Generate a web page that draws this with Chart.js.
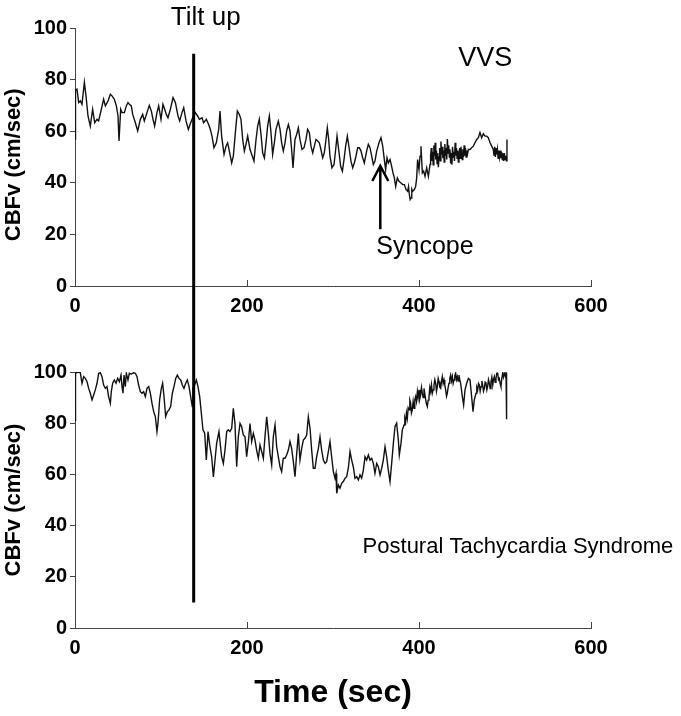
<!DOCTYPE html>
<html lang="en">
  <head>
    <meta charset="UTF-8" />
    <title>CBFv during head-up tilt</title>
    <script src="https://cdn.jsdelivr.net/npm/chart.js"></script>
    <style>
      body {
        margin: 0;
        background: #fff;
        width: 681px;
        height: 716px;
        overflow: hidden;
      }
      .panel {
        position: absolute;
        left: 0;
        width: 681px;
      }
      #topPanel {
        top: 0;
        height: 330px;
      }
      #bottomPanel {
        top: 330px;
        height: 386px;
      }
    </style>
  </head>
  <body>
    <div class="panel" id="topPanel"><canvas id="vvsChart"></canvas></div>
    <div class="panel" id="bottomPanel"><canvas id="potsChart"></canvas></div>
    <script>
      const fontFamily = "'Liberation Sans', Arial, sans-serif";
      const axisColor = "#444";

      const timeTicks = [0, 200, 400, 600];
      const cbfvTicks = [0, 20, 40, 60, 80, 100];
      const tiltTime = 138;

      // vasovagal syncope trace (sec, cm/sec)
      const vvsTime = [
        0, 0.6, 2.3, 4.3, 6.2, 8.1, 10.9, 12.8, 15.1, 17.8, 20.5, 22.9, 25.6, 27.5, 30.6, 33.3, 35.3, 38.4, 41.1, 43.0,
        45.7, 48.1, 50.0, 51.2, 53.1, 54.7, 57.4, 59.7, 61.6, 63.2, 65.5, 67.1, 70.2, 72.9, 76.0, 78.7, 80.6, 83.7, 86.4, 88.8,
        90.7, 92.6, 95.3, 97.3, 100.0, 102.3, 104.3, 106.2, 108.1, 110.9, 114.0, 116.7, 119.8, 121.7, 124.4, 126.4, 129.1, 131.8, 134.5, 136.8,
        139.9, 142.6, 144.6, 147.7, 149.6, 152.7, 155.4, 157.4, 159.3, 161.6, 164.3, 167.1, 168.6, 170.5, 173.3, 175.6, 177.5, 179.5, 182.2, 184.1,
        186.8, 188.8, 191.1, 193.0, 195.0, 196.9, 198.8, 200.8, 203.5, 206.2, 208.1, 210.5, 212.4, 214.3, 216.3, 218.2, 220.2, 222.1, 224.0, 226.0,
        227.9, 229.8, 231.8, 233.7, 236.4, 238.4, 240.3, 242.2, 244.2, 246.1, 248.1, 250.0, 251.9, 253.5, 255.8, 257.8, 259.7, 261.6, 264.0, 266.3,
        268.6, 270.5, 272.5, 274.4, 276.4, 278.3, 280.2, 282.2, 284.1, 286.0, 288.0, 289.9, 291.9, 293.4, 295.0, 296.5, 298.8, 301.2, 303.1, 304.7,
        306.6, 308.9, 310.9, 312.8, 314.7, 316.7, 319.0, 320.9, 322.9, 324.8, 326.7, 328.7, 330.6, 332.6, 334.5, 336.4, 339.1, 341.1, 343.0, 345.0,
        346.9, 348.8, 350.8, 353.5, 355.8, 357.8, 359.7, 361.2, 362.8, 364.3, 366.3, 368.2, 369.8, 371.3, 372.9, 374.8, 376.7, 379.1, 381.0, 383.0,
        384.9, 386.8, 387.8, 388.8, 389.7, 390.7, 391.6, 392.6, 394.6, 396.1, 397.3, 398.4, 400.0, 401.2, 402.3, 403.9, 405.4, 407.0, 408.9, 410.9,
        412.8, 413.5, 414.3, 415.0, 415.8, 416.5, 417.3, 418.0, 418.8, 419.5, 420.3, 421.0, 421.8, 422.5, 423.3, 424.0, 424.8, 425.5, 426.3, 427.0,
        427.8, 428.5, 429.3, 430.0, 430.8, 431.5, 432.3, 433.0, 433.8, 434.5, 435.3, 436.0, 436.8, 437.5, 438.3, 439.0, 439.8, 440.5, 441.3, 442.0,
        442.8, 443.5, 444.3, 445.0, 445.8, 446.5, 447.3, 448.0, 448.8, 449.5, 450.3, 451.0, 451.8, 452.5, 453.3, 454.0, 454.8, 455.5, 456.3, 457.4,
        459.3, 461.2, 463.2, 465.1, 467.1, 469.0, 470.9, 472.9, 474.8, 476.7, 478.7, 480.6, 482.6, 484.5, 486.4, 487.2, 488.0, 488.8, 489.6, 490.4,
        491.2, 492.0, 492.8, 493.6, 494.4, 495.2, 496.0, 496.8, 497.6, 498.4, 499.2, 500.0, 500.8, 501.6, 502.3
      ];
      const vvsCbfv = [
        57, 76, 76.3, 71.1, 71.7, 70.4, 78.9, 73.7, 65.9, 62.0, 68.5, 63.3, 64.6, 64.0, 68.5, 72.4, 69.8, 71.7, 74.3, 73.7,
        72.4, 69.8, 65.9, 56.2, 68.5, 67.2, 67.2, 69.8, 71.1, 70.4, 69.8, 66.5, 63.3, 60.1, 64.6, 66.5, 64.0, 67.2, 70.0, 67.8,
        64.6, 62.0, 67.2, 69.8, 64.6, 70.4, 68.5, 66.5, 65.2, 68.5, 73.0, 71.1, 65.9, 64.0, 67.2, 69.1, 64.0, 60.7, 63.3, 65.2,
        67.2, 65.9, 64.6, 65.2, 63.3, 64.6, 62.6, 60.7, 58.1, 53.6, 55.5, 60.7, 67.8, 58.1, 51.0, 54.2, 55.5, 52.3, 47.7, 50.3,
        60.7, 67.8, 66.5, 64.6, 56.8, 52.3, 54.9, 58.1, 52.9, 50.3, 48.4, 56.8, 62.0, 64.6, 58.8, 51.6, 49.7, 55.5, 62.0, 65.9,
        59.4, 51.0, 55.5, 60.7, 63.9, 60.7, 55.5, 52.3, 55.5, 60.1, 62.6, 60.1, 52.9, 45.8, 56.8, 58.8, 61.3, 56.8, 52.9, 53.6,
        56.8, 60.7, 59.4, 54.2, 51.6, 54.2, 56.8, 56.2, 55.5, 52.9, 49.7, 51.6, 56.8, 61.3, 56.8, 50.3, 45.8, 47.1, 52.9, 58.1,
        52.9, 46.4, 44.5, 49.0, 54.2, 58.1, 52.9, 48.4, 45.8, 47.7, 50.3, 53.6, 53.6, 52.3, 49.7, 47.7, 52.3, 54.9, 53.6, 50.3,
        47.1, 48.4, 52.3, 55.5, 57.5, 54.2, 49.0, 45.1, 49.7, 47.7, 49.0, 46.4, 43.8, 41.9, 38.6, 41.9, 40.6, 39.9, 39.3, 39.3,
        37.4, 36.7, 38.5, 35.4, 33.5, 34.1, 37.5, 36.7, 37.4, 38.6, 41.9, 49.0, 45.1, 50.3, 54.2, 43.8, 44.5, 42.5, 45.8, 42.5,
        47.1, 50.5, 53.5, 48.5, 52.0, 47.0, 54.5, 50.5, 55.5, 49.0, 52.5, 47.5, 51.5, 46.0, 50.0, 53.5, 48.5, 56.0, 51.0, 54.0,
        49.5, 52.5, 48.0, 55.0, 50.5, 53.5, 49.0, 57.0, 51.5, 54.5, 50.0, 53.0, 47.5, 51.5, 47.0, 54.0, 50.0, 52.0, 48.5, 55.5,
        50.5, 53.5, 49.5, 52.5, 48.0, 51.0, 53.5, 49.5, 54.0, 51.0, 49.0, 53.0, 50.0, 54.5, 50.5, 53.5, 50.0, 52.5, 51.0, 52.9,
        52.9, 53.6, 54.2, 55.5, 56.8, 57.5, 59.5, 57.5, 59.0, 58.1, 58.1, 57.5, 55.5, 54.2, 52.9, 50.5, 54.0, 50.0, 53.5, 51.0,
        53.0, 49.5, 52.5, 50.0, 52.5, 49.5, 52.0, 49.0, 51.5, 48.5, 51.5, 49.0, 50.5, 48.5, 56.8
      ];

      // postural tachycardia syndrome trace (sec, cm/sec)
      const potsTime = [
        0, 0.6, 1.9, 4.3, 6.2, 8.1, 10.1, 12.0, 14.0, 15.9, 17.8, 19.8, 21.7, 23.6, 25.6, 27.5, 29.5, 31.4, 33.3, 35.3,
        37.2, 39.1, 41.1, 42.2, 43.8, 45.7, 47.7, 49.6, 51.6, 53.5, 54.7, 55.8, 57.0, 58.5, 59.7, 61.6, 63.2, 65.5, 68.2, 70.2,
        72.1, 74.0, 76.0, 77.9, 79.8, 81.8, 83.7, 85.7, 87.6, 89.5, 91.5, 93.4, 95.3, 96.5, 98.4, 100.4, 101.9, 103.5, 105.4, 107.4,
        109.3, 111.2, 113.2, 115.1, 117.1, 119.0, 120.9, 122.9, 124.8, 126.7, 128.7, 130.6, 132.6, 134.5, 136.4, 137.2, 139.1, 141.1, 143.0, 145.0,
        146.9, 148.8, 150.8, 152.7, 154.7, 156.6, 158.9, 160.9, 162.8, 164.7, 167.4, 170.5, 172.5, 174.4, 176.4, 178.3, 180.2, 182.2, 184.1, 186.0,
        188.0, 189.9, 191.9, 193.8, 195.7, 197.7, 199.6, 201.6, 203.5, 205.4, 207.4, 209.3, 211.2, 213.2, 215.1, 217.1, 219.0, 220.9, 222.9, 224.8,
        226.7, 228.7, 230.6, 232.6, 234.5, 236.4, 238.4, 240.3, 242.2, 244.2, 246.1, 248.1, 250.0, 251.9, 253.9, 255.8, 257.8, 259.7, 261.6, 263.6,
        265.5, 267.4, 269.4, 271.3, 273.3, 275.2, 277.1, 279.1, 281.0, 283.0, 284.9, 286.8, 288.8, 290.7, 292.6, 294.6, 296.5, 298.4, 300.4, 302.3,
        303.5, 304.3, 306.2, 308.1, 310.1, 312.0, 314.0, 315.9, 317.8, 319.8, 321.7, 323.6, 325.6, 327.5, 329.5, 331.4, 333.3, 335.3, 337.2, 339.1,
        341.1, 343.0, 345.0, 346.9, 348.8, 350.8, 352.7, 354.7, 356.6, 358.5, 360.5, 362.4, 364.3, 366.3, 368.2, 370.2, 372.1, 374.0, 376.0, 377.1,
        379.1, 380.6, 382.6, 383.5, 384.5, 385.4, 386.4, 387.4, 388.4, 389.3, 390.3, 391.2, 392.2, 393.2, 394.2, 395.1, 396.1, 397.1, 398.1, 399.0,
        400.0, 400.9, 401.9, 402.9, 403.9, 404.8, 405.8, 406.8, 407.8, 408.7, 409.7, 410.6, 411.6, 412.6, 413.6, 414.5, 415.5, 416.5, 417.4, 418.4,
        419.4, 420.3, 421.3, 422.3, 423.3, 424.2, 425.2, 426.2, 427.1, 428.1, 429.1, 430.0, 431.0, 432.0, 432.9, 433.9, 434.9, 435.8, 436.8, 437.8,
        438.8, 439.7, 440.7, 441.6, 442.6, 443.6, 444.6, 445.5, 446.5, 447.4, 448.4, 449.4, 450.4, 451.9, 453.5, 455.4, 457.4, 459.3, 461.2, 462.8,
        464.3, 466.3, 467.2, 468.2, 469.2, 470.2, 471.1, 472.1, 473.1, 474.0, 475.0, 476.0, 476.9, 477.9, 478.9, 479.8, 480.8, 481.8, 482.7, 483.7,
        484.7, 485.7, 486.6, 487.6, 488.6, 489.5, 490.5, 491.5, 492.4, 493.4, 494.4, 495.3, 496.3, 497.3, 498.2, 499.2, 500.2, 501.2, 501.8, 501.9
      ];
      const potsCbfv = [
        81, 99.7, 99.7, 100, 99.7, 95.6, 98.2, 97.5, 96.2, 93.6, 91.7, 89.1, 91.0, 93.0, 95.6, 99.5, 99.7, 98.2, 94.9, 93.6,
        94.3, 90.4, 87.8, 92.3, 95.6, 96.9, 95.6, 97.5, 96.2, 98.8, 94.3, 91.7, 98.8, 94.3, 99.5, 96.9, 99.5, 99.2, 99.7, 99.5,
        98.2, 94.9, 92.3, 91.7, 92.3, 90.4, 93.6, 94.3, 91.7, 87.8, 84.5, 82.6, 76.7, 80.0, 89.1, 93.6, 95.6, 90.4, 82.6, 84.5,
        85.2, 86.5, 91.7, 94.3, 97.5, 98.8, 97.5, 96.9, 94.9, 93.6, 95.6, 96.9, 94.3, 90.4, 86.5, 93.6, 94.9, 96.9, 94.3, 90.4,
        83.9, 77.4, 76.1, 65.6, 76.7, 71.5, 66.9, 59.0, 65.6, 72.1, 76.7, 66.9, 64.3, 69.5, 76.7, 77.4, 76.7, 78.0, 85.8, 79.9,
        63.0, 74.7, 79.9, 78.6, 75.4, 74.7, 66.9, 72.8, 79.9, 72.8, 76.0, 73.4, 69.5, 66.3, 71.5, 68.9, 66.3, 74.7, 82.5, 76.0,
        68.2, 63.7, 74.7, 79.3, 70.8, 66.9, 63.0, 61.1, 66.3, 66.3, 67.6, 69.5, 72.8, 70.2, 65.0, 59.1, 68.2, 76.0, 65.6, 70.2,
        73.4, 74.1, 75.4, 82.5, 78.0, 69.5, 62.4, 62.4, 66.9, 70.2, 74.7, 69.5, 65.6, 64.3, 65.0, 68.9, 72.8, 66.9, 61.1, 58.5,
        60.4, 52.6, 55.9, 54.6, 56.5, 57.2, 58.5, 59.1, 62.4, 68.9, 65.6, 63.0, 58.5, 59.1, 57.8, 59.8, 58.5, 61.7, 66.9, 65.6,
        67.6, 65.6, 66.3, 64.3, 60.4, 64.3, 63.0, 59.8, 62.4, 65.6, 70.8, 66.9, 61.7, 57.2, 64.3, 72.2, 78.7, 80.0, 73.4, 67.6,
        72.2, 77.4, 79.3, 82.0, 80.6, 84.0, 81.9, 86.0, 85.2, 89.0, 87.8, 84.0, 85.2, 88.5, 85.8, 89.0, 90.4, 88.5, 92.3, 90.0,
        93.0, 89.5, 91.0, 94.0, 91.7, 90.0, 93.6, 91.5, 89.1, 87.5, 86.5, 89.0, 90.4, 94.0, 92.3, 95.0, 91.7, 93.0, 94.9, 97.0,
        95.6, 92.5, 94.3, 97.5, 96.2, 94.0, 93.6, 96.5, 98.2, 95.5, 96.9, 95.0, 93.0, 90.5, 91.7, 94.0, 95.6, 97.5, 98.8, 96.5,
        98.2, 95.5, 96.9, 98.5, 99.5, 97.0, 98.2, 96.5, 98.8, 97.0, 95.6, 93.0, 90.4, 87.1, 93.0, 95.6, 97.5, 96.9, 90.4, 84.5,
        89.1, 91.7, 94.0, 93.0, 95.5, 94.9, 92.5, 94.3, 96.5, 94.9, 92.5, 93.6, 96.0, 95.6, 93.0, 94.3, 97.0, 95.6, 93.5, 96.2,
        98.0, 94.9, 97.0, 98.2, 96.0, 97.5, 99.5, 99.5, 97.0, 97.5, 95.5, 94.3, 97.5, 99.5, 98.0, 99.5, 98.5, 99.7, 99.7, 81.5
      ];

      function toPoints(times, values) {
        return times.map(function (t, i) {
          return { x: t, y: values[i] };
        });
      }

      // inward time ticks, tilt marker, axis title and notes
      const marksPlugin = {
        id: "marks",
        afterDraw(chart, args, opts) {
          const ctx = chart.ctx;
          const area = chart.chartArea;
          const xs = chart.scales.x;
          const ys = chart.scales.y;
          ctx.save();

          ctx.strokeStyle = axisColor;
          ctx.lineWidth = 1;
          timeTicks.slice(1).forEach(function (t) {
            const px = Math.round(xs.getPixelForValue(t)) + 0.5;
            ctx.beginPath();
            ctx.moveTo(px, area.bottom);
            ctx.lineTo(px, area.bottom - 6);
            ctx.stroke();
          });

          const tx = xs.getPixelForValue(tiltTime);
          const y0 = opts.tiltTop === null ? 0 : ys.getPixelForValue(opts.tiltTop);
          const y1 = opts.tiltBottom === null ? chart.height : ys.getPixelForValue(opts.tiltBottom);
          ctx.strokeStyle = "#000";
          ctx.lineWidth = 3;
          ctx.beginPath();
          ctx.moveTo(tx, y0);
          ctx.lineTo(tx, y1);
          ctx.stroke();

          ctx.fillStyle = "#000";
          ctx.textAlign = "center";
          ctx.textBaseline = "middle";
          ctx.save();
          ctx.translate(14, ys.getPixelForValue(opts.titleAt));
          ctx.rotate(-Math.PI / 2);
          ctx.font = "bold 22px " + fontFamily;
          ctx.fillText("CBFv (cm/sec)", 0, 0);
          ctx.restore();

          opts.notes.forEach(function (n) {
            ctx.font = n.size + "px " + fontFamily;
            ctx.fillText(n.text, xs.getPixelForValue(n.t), ys.getPixelForValue(n.v));
          });

          if (opts.arrow) {
            const ax = xs.getPixelForValue(opts.arrow.t);
            const tip = ys.getPixelForValue(opts.arrow.to);
            ctx.lineWidth = 2.5;
            ctx.beginPath();
            ctx.moveTo(ax, ys.getPixelForValue(opts.arrow.from));
            ctx.lineTo(ax, tip);
            ctx.moveTo(ax - 8, tip + 15);
            ctx.lineTo(ax, tip);
            ctx.lineTo(ax + 8, tip + 15);
            ctx.stroke();
          }
          ctx.restore();
        },
      };

      function makeChart(id, points, cfg) {
        const ctx = document.getElementById(id).getContext("2d");
        return new Chart(ctx, {
          type: "line",
          data: {
            datasets: [
              {
                data: points,
                borderColor: "#111",
                borderWidth: 1.4,
                pointRadius: 0,
                tension: 0,
              },
            ],
          },
          plugins: [marksPlugin],
          options: {
            responsive: true,
            maintainAspectRatio: false,
            animation: false,
            layout: { padding: { top: cfg.padTop, right: 90, left: 0, bottom: 0 } },
            plugins: {
              legend: { display: false },
              tooltip: { enabled: false },
              marks: cfg.marks,
            },
            scales: {
              x: {
                type: "linear",
                min: 0,
                max: 600,
                afterBuildTicks(scale) {
                  scale.ticks = timeTicks.map(function (v) { return { value: v }; });
                },
                afterFit(scale) {
                  scale.height = cfg.xHeight;
                },
                grid: { display: true, drawOnChartArea: false, drawTicks: false },
                border: { display: true, color: axisColor, width: 1 },
                ticks: {
                  padding: 8,
                  color: "#000",
                  maxRotation: 0,
                  font: { family: fontFamily, size: 20, weight: "bold" },
                },
                title: cfg.xTitle
                  ? {
                      display: true,
                      text: "Time (sec)",
                      color: "#000",
                      padding: { top: 0, bottom: 4 },
                      font: { family: fontFamily, size: 32, weight: "bold" },
                    }
                  : { display: false },
              },
              y: {
                min: 0,
                max: 100,
                afterBuildTicks(scale) {
                  scale.ticks = cbfvTicks.map(function (v) { return { value: v }; });
                },
                afterFit(scale) {
                  scale.width = 75;
                },
                grid: { display: true, drawOnChartArea: false, drawTicks: true, tickLength: 5, color: axisColor },
                border: { display: true, color: axisColor, width: 1 },
                ticks: {
                  padding: 3,
                  color: "#000",
                  font: { family: fontFamily, size: 20, weight: "bold" },
                },
              },
            },
          },
        });
      }

      makeChart("vvsChart", toPoints(vvsTime, vvsCbfv), {
        padTop: 28,
        xHeight: 44,
        xTitle: false,
        marks: {
          tiltTop: 90,
          tiltBottom: null,
          titleAt: 47,
          notes: [
            { text: "Tilt up", t: 152, v: 104, size: 26 },
            { text: "VVS", t: 477, v: 88, size: 27 },
            { text: "Syncope", t: 407, v: 15, size: 25 },
          ],
          arrow: { t: 355, from: 22, to: 46.5 },
        },
      });

      makeChart("potsChart", toPoints(potsTime, potsCbfv), {
        padTop: 42,
        xHeight: 88,
        xTitle: true,
        marks: {
          tiltTop: null,
          tiltBottom: 10,
          titleAt: 50,
          notes: [{ text: "Postural Tachycardia Syndrome", t: 515, v: 31.6, size: 22 }],
          arrow: null,
        },
      });
    </script>
  </body>
</html>
